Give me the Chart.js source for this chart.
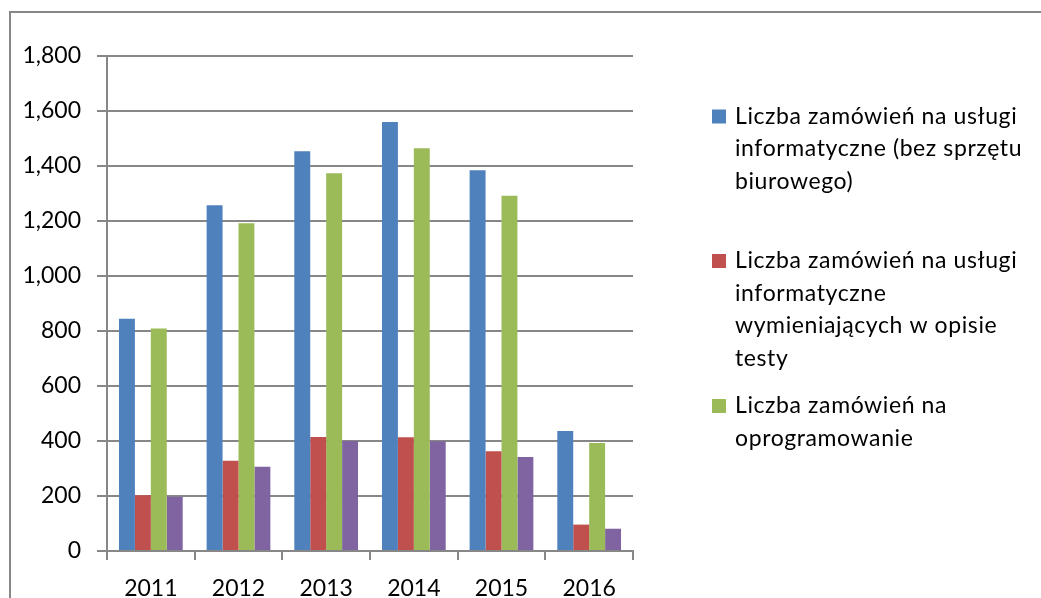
<!DOCTYPE html>
<html>
<head>
<meta charset="utf-8">
<script src="https://cdn.jsdelivr.net/npm/chart.js@4/dist/chart.umd.min.js"></script>
<style>
  html, body { margin: 0; padding: 0; background: #fff; overflow: hidden; }
  #wrap { width: 1041px; height: 598px; position: relative; }
</style>
</head>
<body>
<div id="wrap"><canvas id="ordersChart" width="1041" height="598"></canvas></div>
<script>
// years on the category axis
const years = ['2011', '2012', '2013', '2014', '2015', '2016']

// values
const itServices = [845, 1257, 1454, 1560, 1385, 436]
const itServicesTests = [203, 328, 415, 414, 363, 96]
const software = [809, 1192, 1374, 1465, 1292, 393]
const softwareTests = [197, 306, 400, 399, 342, 81]

const yTicks = [0, 200, 400, 600, 800, 1000, 1200, 1400, 1600, 1800]

// legend text, one array of lines per series (4th entry is cut off in the source)
const legendLines = [
    ['Liczba zamówień na usługi', 'informatyczne (bez sprzętu', 'biurowego)'],
    ['Liczba zamówień na usługi', 'informatyczne', 'wymieniających w opisie', 'testy'],
    ['Liczba zamówień na', 'oprogramowanie']
]

const colors = ['#4F81BD', '#C0504D', '#9BBB59', '#8064A2']
const gray = '#878787'
const font = 'Lato, "Open Sans", sans-serif'

// outer frame + legend on the right
const frameAndLegend = {
    id: 'frameAndLegend',
    beforeDraw(chart) {
        const ctx = chart.ctx
        ctx.save()
        ctx.strokeStyle = gray
        ctx.lineWidth = 2
        ctx.beginPath()
        ctx.moveTo(10, 600)
        ctx.lineTo(10, 12)
        ctx.lineTo(1045, 12)
        ctx.stroke()
        ctx.restore()
    },
    afterDraw(chart) {
        const ctx = chart.ctx
        const firstLineY = [116.5, 261, 406]
        const lineH = 32.5
        ctx.save()
        ctx.font = '23px ' + font
        ctx.letterSpacing = '0.6px'
        ctx.textBaseline = 'middle'
        ctx.fillStyle = '#000'
        legendLines.forEach((lines, i) => {
            const y0 = firstLineY[i]
            ctx.fillStyle = chart.data.datasets[i].backgroundColor
            ctx.fillRect(712, y0 - 7, 14, 14)
            ctx.fillStyle = '#000'
            lines.forEach((line, j) => {
                ctx.fillText(line, 735, y0 + j * lineH)
            })
        })
        ctx.restore()
    }
}

const ordersChart = new Chart(document.getElementById('ordersChart'), {
    type: 'bar',
    data: {
        labels: years,
        datasets: [
            { label: legendLines[0].join(' '), data: itServices, backgroundColor: colors[0] },
            { label: legendLines[1].join(' '), data: itServicesTests, backgroundColor: colors[1] },
            { label: legendLines[2].join(' '), data: software, backgroundColor: colors[2] },
            { label: '', data: softwareTests, backgroundColor: colors[3] }
        ]
    },
    options: {
        responsive: false,
        animation: false,
        datasets: {
            bar: {
                categoryPercentage: 0.727,
                barPercentage: 1.0
            }
        },
        layout: {
            padding: { top: 56, right: 408, bottom: 0, left: 0 }
        },
        plugins: {
            legend: { display: false },
            tooltip: { enabled: false }
        },
        scales: {
            x: {
                afterFit: (scale) => { scale.height = 47 },
                grid: {
                    offset: true,
                    drawOnChartArea: false,
                    drawTicks: true,
                    tickLength: 9,
                    color: gray,
                    lineWidth: 2
                },
                border: { display: true, color: gray, width: 2 },
                ticks: {
                    color: '#000',
                    padding: 15,
                    font: { family: font, size: 23 }
                }
            },
            y: {
                min: 0,
                max: 1800,
                afterFit: (scale) => { scale.width = 107 },
                afterBuildTicks: (scale) => {
                    scale.ticks = yTicks.map((v) => ({ value: v }))
                },
                grid: {
                    color: gray,
                    lineWidth: 2,
                    drawTicks: true,
                    tickLength: 10
                },
                border: { display: true, color: gray, width: 2 },
                ticks: {
                    color: '#000',
                    padding: 16,
                    font: { family: font, size: 23 },
                    callback: (v) => v.toLocaleString('en-US')
                }
            }
        }
    },
    plugins: [frameAndLegend]
})
</script>
</body>
</html>
